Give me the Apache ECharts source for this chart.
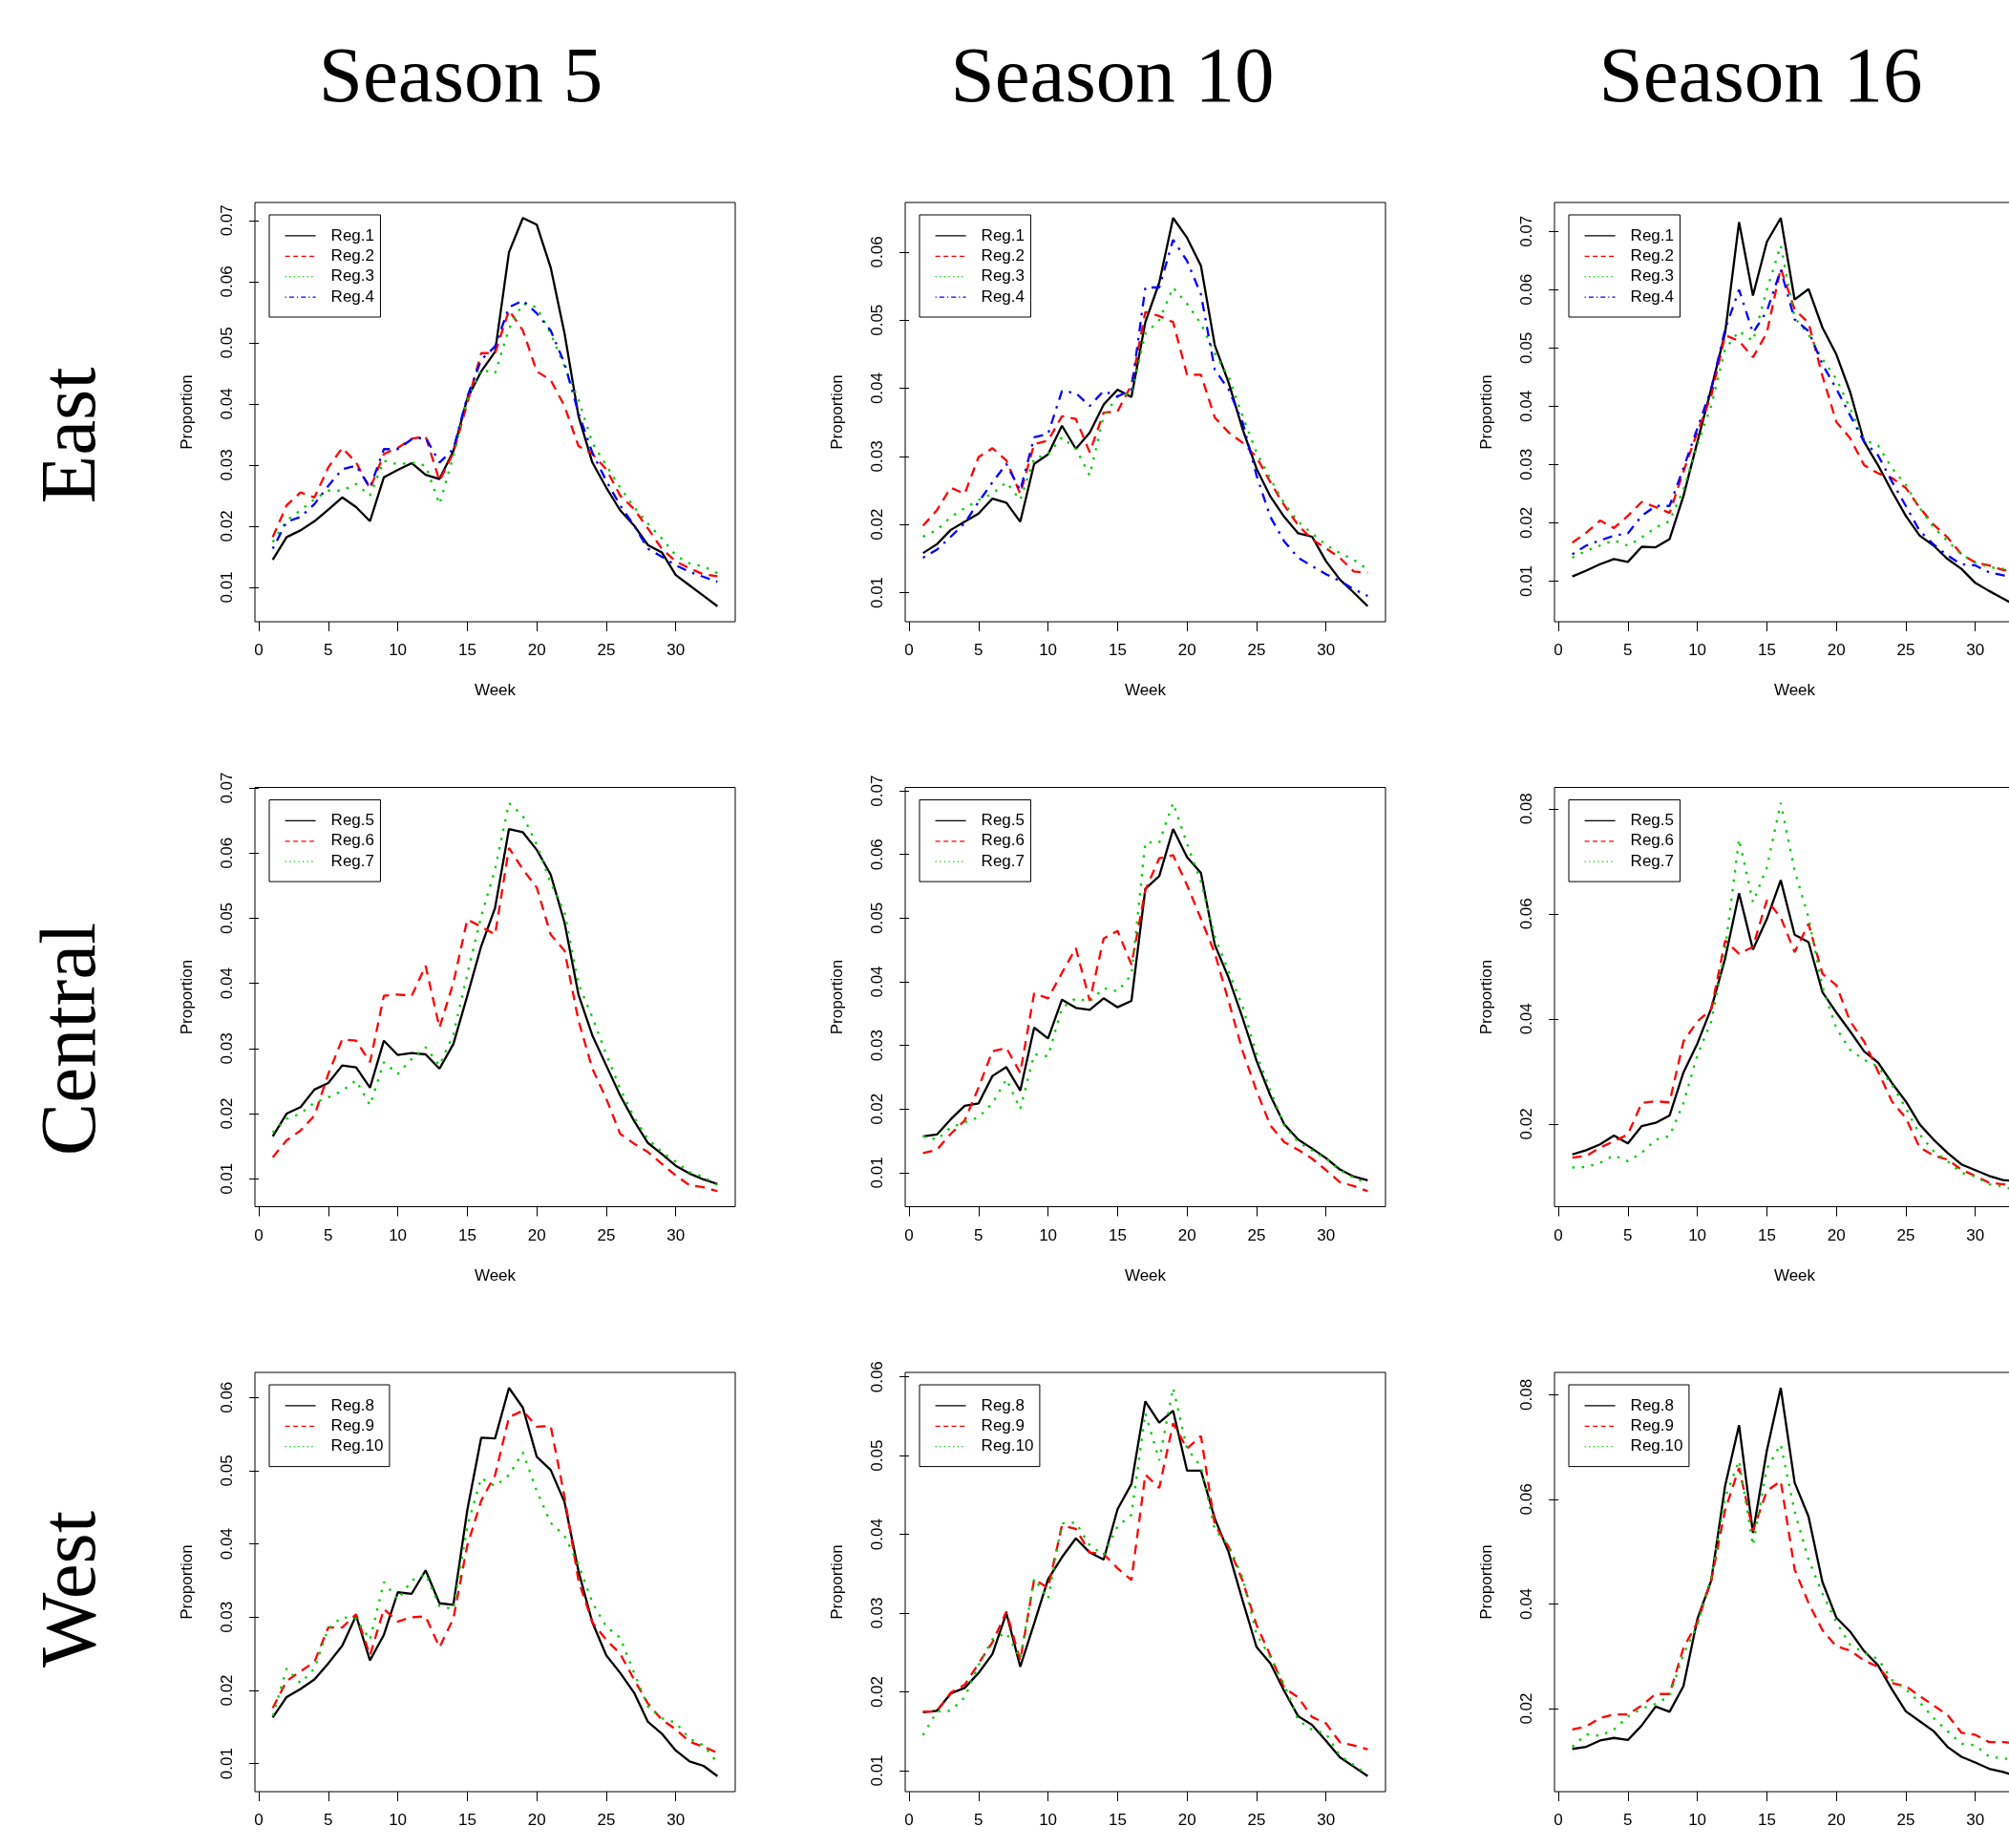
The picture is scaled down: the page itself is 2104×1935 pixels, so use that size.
<!DOCTYPE html>
<html><head><meta charset="utf-8">
<script src="https://cdn.jsdelivr.net/npm/echarts@6/dist/echarts.min.js"></script>
<style>html,body{margin:0;padding:0;background:#fff}#c{width:2104px;height:1935px}</style>
</head><body><div id="c"></div>
<script>
// ---------------- DATA ----------------
const weeks = [1,2,3,4,5,6,7,8,9,10,11,12,13,14,15,16,17,18,19,20,21,22,23,24,25,26,27,28,29,30,31,32,33];
const seasons = ['Season 5','Season 10','Season 16'];
const regions = ['East','Central','West'];
const xTicks = [0,5,10,15,20,25,30];
const yTicksA = [0.01,0.02,0.03,0.04,0.05,0.06,0.07];
const yTicksB = [0.01,0.02,0.03,0.04,0.05,0.06];
const yTicksC = [0.02,0.04,0.06,0.08];
const eastNames = ['Reg.1','Reg.2','Reg.3','Reg.4'];
const centralNames = ['Reg.5','Reg.6','Reg.7'];
const westNames = ['Reg.8','Reg.9','Reg.10'];

// East, Season 5
const east_s5_r1 = [0.0145,0.0182,0.0193,0.0208,0.0227,0.0247,0.0231,0.0208,0.0280,0.0292,0.0303,0.0284,0.0277,0.0323,0.0409,0.0453,0.0485,0.0648,0.0704,0.0693,0.0623,0.0515,0.0380,0.0304,0.0263,0.0226,0.0201,0.0169,0.0157,0.0120,0.0103,0.0086,0.0069];
const east_s5_r2 = [0.0182,0.0234,0.0255,0.0247,0.0296,0.0328,0.0304,0.0261,0.0318,0.0328,0.0343,0.0347,0.0274,0.0320,0.0401,0.0483,0.0483,0.0553,0.0520,0.0453,0.0439,0.0396,0.0331,0.0318,0.0293,0.0250,0.0228,0.0196,0.0163,0.0142,0.0131,0.0121,0.0118];
const east_s5_r3 = [0.0174,0.0209,0.0226,0.0244,0.0258,0.0258,0.0269,0.0250,0.0307,0.0301,0.0304,0.0299,0.0236,0.0315,0.0407,0.0456,0.0450,0.0523,0.0564,0.0558,0.0515,0.0461,0.0407,0.0336,0.0299,0.0263,0.0231,0.0204,0.0180,0.0152,0.0139,0.0134,0.0123];
const east_s5_r4 = [0.0163,0.0207,0.0215,0.0236,0.0266,0.0293,0.0299,0.0263,0.0326,0.0326,0.0342,0.0345,0.0304,0.0326,0.0412,0.0472,0.0494,0.0558,0.0569,0.0548,0.0520,0.0466,0.0385,0.0320,0.0274,0.0234,0.0201,0.0163,0.0150,0.0136,0.0125,0.0117,0.0109];
// East, Season 10
const east_s10_r1 = [0.0158,0.0171,0.0192,0.0204,0.0216,0.0238,0.0232,0.0204,0.0289,0.0303,0.0345,0.0311,0.0335,0.0376,0.0398,0.0387,0.0497,0.0555,0.0650,0.0621,0.0580,0.0463,0.0408,0.0340,0.0282,0.0241,0.0211,0.0187,0.0182,0.0146,0.0119,0.0100,0.0080];
const east_s10_r2 = [0.0198,0.0221,0.0254,0.0245,0.0299,0.0312,0.0294,0.0245,0.0318,0.0323,0.0359,0.0355,0.0306,0.0364,0.0366,0.0405,0.0512,0.0506,0.0497,0.0420,0.0420,0.0357,0.0335,0.0320,0.0299,0.0262,0.0228,0.0199,0.0178,0.0165,0.0151,0.0131,0.0129];
const east_s10_r3 = [0.0182,0.0192,0.0211,0.0224,0.0236,0.0245,0.0262,0.0236,0.0297,0.0303,0.0328,0.0311,0.0272,0.0359,0.0388,0.0393,0.0480,0.0500,0.0548,0.0524,0.0495,0.0451,0.0417,0.0359,0.0306,0.0267,0.0231,0.0204,0.0187,0.0170,0.0158,0.0148,0.0134];
const east_s10_r4 = [0.0151,0.0163,0.0182,0.0202,0.0233,0.0262,0.0289,0.0250,0.0328,0.0333,0.0396,0.0393,0.0374,0.0396,0.0388,0.0398,0.0548,0.0548,0.0618,0.0587,0.0538,0.0427,0.0398,0.0350,0.0272,0.0211,0.0175,0.0151,0.0139,0.0127,0.0117,0.0105,0.0095];
// East, Season 16
const east_s16_r1 = [0.0108,0.0118,0.0129,0.0138,0.0133,0.0159,0.0158,0.0172,0.0246,0.0339,0.0430,0.0526,0.0716,0.0590,0.0682,0.0723,0.0583,0.0601,0.0535,0.0489,0.0424,0.0339,0.0299,0.0254,0.0212,0.0178,0.0161,0.0138,0.0121,0.0097,0.0083,0.0070,0.0057];
const east_s16_r2 = [0.0166,0.0183,0.0204,0.0191,0.0212,0.0236,0.0227,0.0217,0.0288,0.0356,0.0418,0.0522,0.0512,0.0484,0.0526,0.0637,0.0566,0.0543,0.0452,0.0373,0.0345,0.0299,0.0285,0.0277,0.0260,0.0226,0.0197,0.0175,0.0146,0.0132,0.0127,0.0119,0.0115];
const east_s16_r3 = [0.0140,0.0152,0.0161,0.0170,0.0161,0.0175,0.0192,0.0203,0.0257,0.0333,0.0401,0.0498,0.0529,0.0512,0.0600,0.0676,0.0552,0.0523,0.0481,0.0447,0.0396,0.0342,0.0333,0.0294,0.0265,0.0226,0.0192,0.0169,0.0146,0.0132,0.0124,0.0121,0.0114];
const east_s16_r4 = [0.0146,0.0161,0.0170,0.0178,0.0182,0.0212,0.0229,0.0229,0.0294,0.0362,0.0430,0.0532,0.0600,0.0526,0.0563,0.0634,0.0549,0.0529,0.0472,0.0430,0.0384,0.0339,0.0316,0.0271,0.0229,0.0186,0.0163,0.0144,0.0129,0.0127,0.0115,0.0110,0.0104];
// Central, Season 5
const central_s5_r5 = [0.0165,0.0200,0.0210,0.0237,0.0247,0.0274,0.0271,0.0240,0.0312,0.0290,0.0293,0.0291,0.0269,0.0307,0.0381,0.0457,0.0516,0.0637,0.0632,0.0605,0.0567,0.0493,0.0383,0.0320,0.0274,0.0228,0.0189,0.0155,0.0138,0.0120,0.0108,0.0099,0.0092];
const central_s5_r6 = [0.0133,0.0159,0.0174,0.0197,0.0261,0.0314,0.0312,0.0279,0.0381,0.0383,0.0381,0.0427,0.0332,0.0401,0.0498,0.0487,0.0475,0.0608,0.0575,0.0547,0.0475,0.0450,0.0343,0.0269,0.0223,0.0169,0.0154,0.0141,0.0123,0.0105,0.0090,0.0087,0.0081];
const central_s5_r7 = [0.0171,0.0192,0.0200,0.0217,0.0225,0.0235,0.0251,0.0213,0.0279,0.0261,0.0284,0.0302,0.0274,0.0322,0.0414,0.0503,0.0575,0.0677,0.0657,0.0613,0.0554,0.0509,0.0399,0.0348,0.0291,0.0238,0.0194,0.0161,0.0141,0.0126,0.0110,0.0103,0.0090];
// Central, Season 10
const central_s10_r5 = [0.0157,0.0160,0.0184,0.0205,0.0209,0.0252,0.0266,0.0229,0.0328,0.0311,0.0372,0.0359,0.0356,0.0374,0.0360,0.0370,0.0546,0.0566,0.0640,0.0596,0.0571,0.0458,0.0406,0.0343,0.0276,0.0221,0.0176,0.0152,0.0138,0.0123,0.0105,0.0094,0.0088];
const central_s10_r6 = [0.0131,0.0136,0.0161,0.0182,0.0234,0.0291,0.0296,0.0257,0.0382,0.0374,0.0414,0.0453,0.0370,0.0468,0.0480,0.0427,0.0544,0.0594,0.0599,0.0552,0.0499,0.0445,0.0369,0.0291,0.0229,0.0174,0.0148,0.0136,0.0122,0.0104,0.0085,0.0079,0.0071];
const central_s10_r7 = [0.0157,0.0152,0.0171,0.0179,0.0187,0.0209,0.0247,0.0200,0.0286,0.0283,0.0359,0.0374,0.0369,0.0390,0.0385,0.0411,0.0619,0.0619,0.0681,0.0617,0.0557,0.0471,0.0416,0.0361,0.0286,0.0229,0.0174,0.0148,0.0135,0.0122,0.0104,0.0092,0.0083];
// Central, Season 16
const central_s16_r5 = [0.0142,0.0150,0.0161,0.0178,0.0163,0.0196,0.0202,0.0216,0.0298,0.0353,0.0420,0.0515,0.0639,0.0532,0.0590,0.0664,0.0560,0.0546,0.0451,0.0412,0.0376,0.0338,0.0317,0.0278,0.0243,0.0199,0.0170,0.0145,0.0123,0.0112,0.0101,0.0093,0.0091];
const central_s16_r6 = [0.0136,0.0139,0.0155,0.0167,0.0180,0.0240,0.0243,0.0241,0.0357,0.0395,0.0418,0.0549,0.0524,0.0537,0.0626,0.0593,0.0527,0.0581,0.0486,0.0464,0.0395,0.0357,0.0300,0.0243,0.0211,0.0155,0.0140,0.0132,0.0113,0.0101,0.0088,0.0085,0.0084];
const central_s16_r7 = [0.0117,0.0118,0.0126,0.0140,0.0129,0.0145,0.0170,0.0177,0.0240,0.0331,0.0395,0.0533,0.0742,0.0622,0.0688,0.0811,0.0682,0.0593,0.0461,0.0382,0.0341,0.0322,0.0309,0.0275,0.0230,0.0180,0.0148,0.0129,0.0107,0.0100,0.0085,0.0081,0.0072];
// West, Season 5
const west_s5_r8 = [0.0163,0.0191,0.0202,0.0215,0.0237,0.0261,0.0302,0.0241,0.0276,0.0334,0.0332,0.0364,0.0319,0.0317,0.0446,0.0545,0.0544,0.0613,0.0586,0.0519,0.0501,0.0457,0.0363,0.0293,0.0248,0.0224,0.0197,0.0157,0.0141,0.0118,0.0103,0.0097,0.0083];
const west_s5_r9 = [0.0176,0.0213,0.0226,0.0239,0.0286,0.0286,0.0304,0.0248,0.0311,0.0294,0.0300,0.0301,0.0259,0.0298,0.0398,0.0459,0.0494,0.0573,0.0582,0.0560,0.0561,0.0464,0.0350,0.0293,0.0269,0.0250,0.0215,0.0182,0.0160,0.0147,0.0130,0.0123,0.0115];
const west_s5_r10 = [0.0165,0.0230,0.0210,0.0230,0.0285,0.0300,0.0298,0.0269,0.0348,0.0324,0.0350,0.0359,0.0315,0.0311,0.0424,0.0490,0.0479,0.0494,0.0525,0.0472,0.0429,0.0411,0.0372,0.0320,0.0287,0.0272,0.0224,0.0178,0.0162,0.0156,0.0134,0.0125,0.0101];
// West, Season 10
const west_s10_r8 = [0.0174,0.0176,0.0198,0.0205,0.0224,0.0248,0.0300,0.0232,0.0287,0.0343,0.0371,0.0395,0.0377,0.0368,0.0432,0.0464,0.0569,0.0542,0.0557,0.0481,0.0481,0.0420,0.0377,0.0316,0.0257,0.0236,0.0201,0.0169,0.0158,0.0138,0.0117,0.0105,0.0093];
const west_s10_r9 = [0.0175,0.0175,0.0199,0.0209,0.0236,0.0263,0.0302,0.0240,0.0343,0.0332,0.0411,0.0407,0.0377,0.0375,0.0357,0.0342,0.0476,0.0459,0.0541,0.0509,0.0525,0.0412,0.0384,0.0341,0.0285,0.0246,0.0205,0.0193,0.0168,0.0160,0.0136,0.0132,0.0127];
const west_s10_r10 = [0.0145,0.0175,0.0176,0.0193,0.0234,0.0267,0.0275,0.0242,0.0344,0.0318,0.0414,0.0415,0.0386,0.0374,0.0410,0.0425,0.0554,0.0494,0.0586,0.0509,0.0486,0.0406,0.0386,0.0345,0.0273,0.0244,0.0209,0.0164,0.0152,0.0147,0.0119,0.0107,0.0095];
// West, Season 16
const west_s16_r8 = [0.0123,0.0127,0.0139,0.0144,0.0140,0.0168,0.0204,0.0194,0.0243,0.0371,0.0445,0.0626,0.0742,0.0536,0.0693,0.0813,0.0632,0.0567,0.0442,0.0374,0.0347,0.0310,0.0283,0.0237,0.0195,0.0176,0.0157,0.0127,0.0108,0.0097,0.0085,0.0079,0.0071];
const west_s16_r9 = [0.0160,0.0166,0.0182,0.0189,0.0189,0.0206,0.0228,0.0228,0.0316,0.0365,0.0445,0.0580,0.0660,0.0540,0.0616,0.0635,0.0466,0.0402,0.0350,0.0319,0.0311,0.0292,0.0280,0.0249,0.0243,0.0224,0.0206,0.0188,0.0154,0.0150,0.0136,0.0136,0.0134];
const west_s16_r10 = [0.0127,0.0151,0.0148,0.0160,0.0185,0.0200,0.0209,0.0224,0.0304,0.0359,0.0451,0.0604,0.0674,0.0512,0.0659,0.0705,0.0577,0.0485,0.0420,0.0365,0.0322,0.0307,0.0295,0.0255,0.0237,0.0212,0.0182,0.0157,0.0133,0.0130,0.0108,0.0105,0.0101];

// ---------------- PANELS ----------------
const panels = [
  {row:0, col:0, names:eastNames, data:[east_s5_r1,east_s5_r2,east_s5_r3,east_s5_r4], yTicks:yTicksA},
  {row:0, col:1, names:eastNames, data:[east_s10_r1,east_s10_r2,east_s10_r3,east_s10_r4], yTicks:yTicksB},
  {row:0, col:2, names:eastNames, data:[east_s16_r1,east_s16_r2,east_s16_r3,east_s16_r4], yTicks:yTicksA},
  {row:1, col:0, names:centralNames, data:[central_s5_r5,central_s5_r6,central_s5_r7], yTicks:yTicksA},
  {row:1, col:1, names:centralNames, data:[central_s10_r5,central_s10_r6,central_s10_r7], yTicks:yTicksA},
  {row:1, col:2, names:centralNames, data:[central_s16_r5,central_s16_r6,central_s16_r7], yTicks:yTicksC},
  {row:2, col:0, names:westNames, data:[west_s5_r8,west_s5_r9,west_s5_r10], yTicks:yTicksB},
  {row:2, col:1, names:westNames, data:[west_s10_r8,west_s10_r9,west_s10_r10], yTicks:yTicksB},
  {row:2, col:2, names:westNames, data:[west_s16_r8,west_s16_r9,west_s16_r10], yTicks:yTicksC}
];

// ---------------- STYLE / LAYOUT ----------------
const SANS = '"Liberation Sans", Arial, Helvetica, sans-serif';
const SERIF = '"Liberation Serif", "Times New Roman", serif';
const colLeft = [267, 948, 1628];
const rowTop = [212, 824.5, 1437];
const PW = 503, PH = 439;
const lineStyles = [
  {color:'#000000', type:'solid'},
  {color:'#FF0000', type:[10,7]},
  {color:'#00CD00', type:[2.5,7.5]},
  {color:'#0000FF', type:[2.5,7,10,7]}
];
const legendDash = ['solid',[5,3.5],[1.3,3.3],[1.3,3,5,3]];
const txt = {fontSize:17, fontFamily:SANS, color:'#000'};

const grid=[], xAxis=[], yAxis=[], series=[], legend=[];
panels.forEach((p, i) => {
  const left = colLeft[p.col], top = rowTop[p.row];
  grid.push({left:left, top:top, width:PW, height:PH, show:true, borderColor:'#000', borderWidth:1,
    backgroundColor:'transparent', containLabel:false, outerBoundsMode:'none'});
  let lo = Infinity, hi = -Infinity;
  p.data.forEach(a => a.forEach(v => { if (v < lo) lo = v; if (v > hi) hi = v; }));
  const ext = (hi - lo) * 0.04;
  xAxis.push({type:'value', gridIndex:i, min:1 - 32*0.04, max:33 + 32*0.04,
    axisLine:{show:false}, splitLine:{show:false},
    axisTick:{show:true, inside:false, length:10, lineStyle:{color:'#000', width:1}, customValues:xTicks},
    axisLabel:Object.assign({customValues:xTicks, margin:22, formatter:v => String(v)}, txt),
    name:'Week', nameLocation:'middle', nameGap:64, nameTextStyle:txt});
  yAxis.push({type:'value', gridIndex:i, min:lo - ext, max:hi + ext,
    axisLine:{show:false}, splitLine:{show:false},
    axisTick:{show:true, inside:false, length:10, lineStyle:{color:'#000', width:1}, customValues:p.yTicks},
    axisLabel:Object.assign({customValues:p.yTicks, rotate:90, margin:20, formatter:v => v.toFixed(2)}, txt),
    name:'Proportion', nameLocation:'middle', nameGap:62, nameRotate:90, nameTextStyle:txt});
  p.data.forEach((arr, k) => {
    series.push({type:'line', name:p.names[k], xAxisIndex:i, yAxisIndex:i,
      data:weeks.map((w, j) => [w, arr[j]]),
      symbol:'none', showSymbol:false, color:lineStyles[k].color,
      lineStyle:{color:lineStyles[k].color, width:2.3, type:lineStyles[k].type},
      clip:true, animation:false});
  });
  legend.push({show:true, left:left + 15, top:top + 13, orient:'vertical', selectedMode:false,
    borderColor:'#000', borderWidth:1, padding:[13.4,6.5,12.4,16],
    itemWidth:32, itemHeight:14, itemGap:4.4,
    textStyle:Object.assign({padding:[0,0,0,11]}, txt),
    data:p.names.map((n, k) => ({name:n,
      itemStyle:{color:'rgba(0,0,0,0)', borderWidth:0, opacity:0},
      lineStyle:{width:1.2, type:legendDash[k], color:lineStyles[k].color, opacity:1}}))});
});

const graphic = [];
const titleX = [482.5, 1165, 1844];
seasons.forEach((s, c) => graphic.push({type:'text', x:titleX[c], y:84,
  style:{text:s, font:'83px ' + SERIF, fill:'#000', textAlign:'center', textVerticalAlign:'middle', verticalAlign:'middle'}}));
const rowY = [456, 1088, 1664];
regions.forEach((r, k) => graphic.push({type:'text', x:77, y:rowY[k], rotation:Math.PI/2,
  style:{text:r, font:'83px ' + SERIF, fill:'#000', textAlign:'center', textVerticalAlign:'middle', verticalAlign:'middle'}}));

const chart = echarts.init(document.getElementById('c'), null, {renderer:'canvas'});
chart.setOption({animation:false, backgroundColor:'#fff', grid, xAxis, yAxis, series, legend, graphic});
</script></body></html>
